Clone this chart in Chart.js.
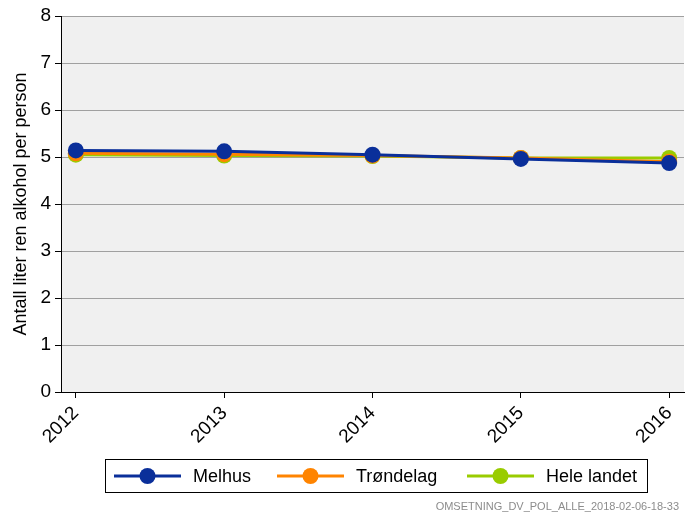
<!DOCTYPE html>
<html>
<head>
<meta charset="utf-8">
<script src="https://cdn.jsdelivr.net/npm/chart.js@4/dist/chart.umd.min.js"></script>
<style>
html,body{margin:0;padding:0;background:#fff;}
#wrap{position:relative;width:692px;height:512px;}
</style>
</head>
<body>
<div id="wrap"><canvas id="c" width="692" height="512"></canvas></div>
<script>
const years = [2012, 2013, 2014, 2015, 2016];
const melhus = [5.14, 5.12, 5.05, 4.96, 4.87];
const trondelag = [5.08, 5.06, 5.03, 4.98, 4.90];
const heleLandet = [5.05, 5.03, 5.02, 4.98, 4.98];
const seriesNames = ['Melhus', 'Trøndelag', 'Hele landet'];
const seriesColors = ['#0a2f9a', '#ff8400', '#99cc00'];
const yTicks = [0, 1, 2, 3, 4, 5, 6, 7, 8];
const yTitle = 'Antall liter ren alkohol per person';
const footnote = 'OMSETNING_DV_POL_ALLE_2018-02-06-18-33';

const FONT = "'Liberation Sans', Arial, sans-serif";

function mk(name, vals, color) {
  return {
    label: name,
    data: years.map((y, i) => ({x: y, y: vals[i]})),
    borderColor: color,
    backgroundColor: color,
    pointBackgroundColor: color,
    pointBorderColor: color,
    borderWidth: 3,
    pointRadius: 8,
    pointHoverRadius: 8,
    pointBorderWidth: 0,
    tension: 0
  };
}

const bgPlugin = {
  id: 'bg',
  beforeDraw(chart) {
    const a = chart.chartArea, ctx = chart.ctx;
    ctx.save();
    ctx.fillStyle = '#f0f0f0';
    ctx.fillRect(a.left, a.top, a.right - a.left, a.bottom - a.top);
    ctx.restore();
  }
};

const legendPlugin = {
  id: 'boxLegend',
  afterDraw(chart) {
    const ctx = chart.ctx;
    ctx.save();
    ctx.strokeStyle = '#000';
    ctx.lineWidth = 1;
    ctx.strokeRect(105.5, 459.5, 542, 33);
    const cy = 476;
    const starts = [114, 277, 467];
    chart.data.datasets.forEach((ds, i) => {
      const x0 = starts[i];
      ctx.strokeStyle = ds.borderColor;
      ctx.lineWidth = 3;
      ctx.beginPath();
      ctx.moveTo(x0, cy);
      ctx.lineTo(x0 + 67, cy);
      ctx.stroke();
      ctx.fillStyle = ds.borderColor;
      ctx.beginPath();
      ctx.arc(x0 + 33.5, cy, 8, 0, Math.PI * 2);
      ctx.fill();
      ctx.fillStyle = '#000';
      ctx.font = '18px ' + FONT;
      ctx.textBaseline = 'middle';
      ctx.textAlign = 'left';
      ctx.fillText(ds.label, x0 + 79, cy + 1);
    });
    ctx.fillStyle = '#8c8c8c';
    ctx.font = '11px ' + FONT;
    ctx.textAlign = 'right';
    ctx.textBaseline = 'middle';
    ctx.fillText(footnote, 679, 507);
    ctx.restore();
  }
};

new Chart(document.getElementById('c'), {
  type: 'line',
  data: {
    datasets: [
      mk(seriesNames[0], melhus, seriesColors[0]),
      mk(seriesNames[1], trondelag, seriesColors[1]),
      mk(seriesNames[2], heleLandet, seriesColors[2])
    ]
  },
  options: {
    responsive: false,
    animation: false,
    devicePixelRatio: 1,
    layout: {padding: {left: 0, top: 16, right: 8, bottom: 0}},
    plugins: {legend: {display: false}, tooltip: {enabled: false}},
    scales: {
      x: {
        type: 'linear',
        min: 2011.9,
        max: 2016.1,
        afterBuildTicks(scale) { scale.ticks = years.map(v => ({value: v})); },
        afterFit(scale) { scale.height = 120; },
        ticks: {
          minRotation: 45, maxRotation: 45,
          color: '#000',
          font: {family: FONT, size: 19},
          padding: 4,
          callback: v => String(v)
        },
        grid: {drawOnChartArea: false, drawTicks: true, tickLength: 6, tickColor: '#000', color: '#000'},
        border: {display: true, color: '#000', width: 1}
      },
      y: {
        min: 0, max: 8,
        afterBuildTicks(scale) { scale.ticks = yTicks.map(v => ({value: v})); },
        afterFit(scale) { scale.width = 61; },
        ticks: {color: '#000', font: {family: FONT, size: 19}, padding: 4},
        grid: {color: '#a0a0a0', lineWidth: 1, tickLength: 6, tickColor: '#000'},
        border: {display: true, color: '#000', width: 1},
        title: {display: true, text: yTitle, color: '#000', font: {family: FONT, size: 18}, padding: {top: 10, bottom: 0}}
      }
    }
  },
  plugins: [bgPlugin, legendPlugin]
});
</script>
</body>
</html>
